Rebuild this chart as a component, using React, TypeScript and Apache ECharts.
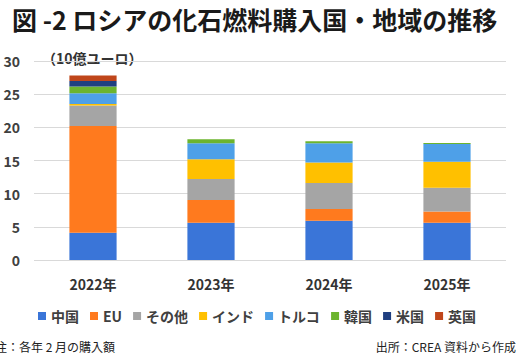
import React, { useEffect, useRef } from "react";
import * as echarts from "echarts";

const years = ["2022年", "2023年", "2024年", "2025年"];
const seriesNames = ["中国", "EU", "その他", "インド", "トルコ", "韓国", "米国", "英国"];
const china = [4.1, 5.6, 5.9, 5.6];
const eu = [16.1, 3.45, 1.8, 1.7];
const others = [3.1, 3.15, 3.9, 3.6];
const india = [0.2, 3.0, 3.1, 3.9];
const turkey = [1.65, 2.4, 2.9, 2.7];
const korea = [1.0, 0.6, 0.3, 0.15];
const usa = [0.85, 0, 0, 0];
const uk = [0.8, 0, 0, 0];
const yTicks = [0, 5, 10, 15, 20, 25, 30];

const colors = ["#3A75D8", "#FF7A1E", "#A5A5A5", "#FFC000", "#4EA0E8", "#6CB42E", "#1F3F80", "#C0461A"];
const FONT = "'Noto Sans CJK JP', 'Noto Sans', sans-serif";

export default function App() {
  const ref = useRef<HTMLDivElement>(null);
  useEffect(() => {
    if (!ref.current) return;
    const chart = echarts.init(ref.current, null, { renderer: "svg" });
    const dataSets = [china, eu, others, india, turkey, korea, usa, uk];
    chart.setOption({
      animation: false,
      textStyle: { fontFamily: FONT },
      color: colors,
      title: {
        text: "図 -2 ロシアの化石燃料購入国・地域の推移",
        left: 7,
        top: 1,
        textStyle: { fontFamily: FONT, fontSize: 25, fontWeight: "bold", color: "#1a1a1a" },
      },
      legend: {
        data: seriesNames,
        left: 33,
        top: 304,
        icon: "rect",
        itemWidth: 8,
        itemHeight: 8,
        itemGap: 11,
        textStyle: { fontFamily: FONT, fontSize: 14, fontWeight: "bold", color: "#404040" },
      },
      grid: { left: 34, right: 24, top: 61, bottom: 96, containLabel: false },
      xAxis: {
        type: "category",
        data: years,
        axisLine: { show: false },
        axisTick: { show: false },
        axisLabel: { fontFamily: FONT, fontSize: 14, fontWeight: "bold", color: "#333", margin: 17 },
      },
      yAxis: {
        type: "value",
        min: yTicks[0],
        max: yTicks[yTicks.length - 1],
        interval: 5,
        axisLine: { show: false },
        axisTick: { show: false },
        splitLine: { lineStyle: { color: "#D9D9D9", width: 1 } },
        axisLabel: { fontFamily: FONT, fontSize: 14, fontWeight: "bold", color: "#404040", margin: 14 },
      },
      series: seriesNames.map((name, i) => ({
        name,
        type: "bar",
        stack: "total",
        barWidth: "40%",
        data: dataSets[i],
        itemStyle: { color: colors[i] },
      })),
      graphic: [
        {
          type: "text",
          left: 42,
          top: 51,
          style: { text: "（10億ユーロ）", font: `bold 14px ${FONT}`, fill: "#333" },
        },
        {
          type: "text",
          x: 115,
          y: 346,
          style: { text: "注：各年 2 月の購入額", font: `12px ${FONT}`, fill: "#222", align: "right", verticalAlign: "middle" },
        },
        {
          type: "text",
          x: 516,
          y: 346,
          style: { text: "出所：CREA 資料から作成", font: `12px ${FONT}`, fill: "#222", align: "right", verticalAlign: "middle" },
        },
      ],
    });
    return () => chart.dispose();
  }, []);
  return <div ref={ref} style={{ width: 530, height: 356, position: "absolute", left: 0, top: 0 }} />;
}
